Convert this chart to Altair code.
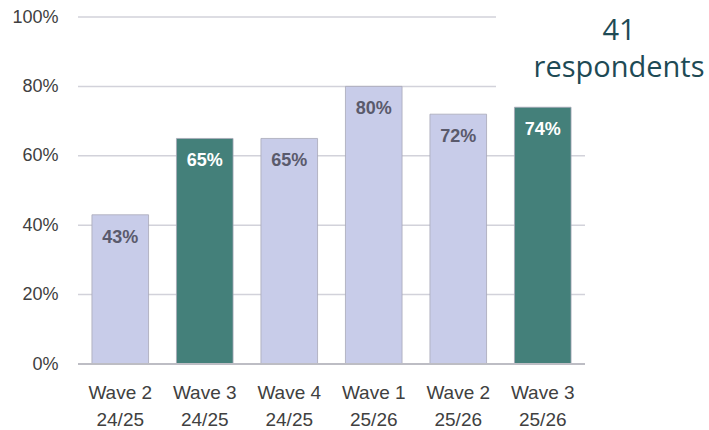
import altair as alt
import pandas as pd

# Share of respondents per survey wave
waves = ["Wave 2\n24/25", "Wave 3\n24/25", "Wave 4\n24/25",
         "Wave 1\n25/26", "Wave 2\n25/26", "Wave 3\n25/26"]
shares = [43, 65, 65, 80, 72, 74]
highlight = [False, True, False, False, False, True]
respondents_note = ["41", "respondents"]
grid_low = [0, 20, 40, 60]
grid_high = [80, 100]

LIGHT = "#C8CCE9"
TEAL = "#44807A"
GRID = "#D2D2DA"

df = pd.DataFrame({
    "wave": waves,
    "share": shares,
    "highlight": highlight,
    "label": [f"{v}%" for v in shares],
})

W, H = 507, 347
LEFT, TOP = 78, 17
TOTAL_W, TOTAL_H = 709, 430
NOTE_X = 418  # upper gridlines stop short of the respondent note

y_scale = alt.Scale(domain=[0, 100], nice=False)

x_enc = alt.X(
    "wave:N", sort=waves, title=None,
    scale=alt.Scale(paddingInner=0.33, paddingOuter=0.165),
    axis=alt.Axis(labelAngle=0, labelExpr="split(datum.label, '\\n')",
                  labelFont="Liberation Sans", labelFontSize=19,
                  labelColor="#404040", labelPadding=19, labelLineHeight=27,
                  ticks=False, domain=False, grid=False),
)
y_enc = alt.Y(
    "share:Q", title=None, scale=y_scale,
    axis=alt.Axis(values=[0, 20, 40, 60, 80, 100],
                  labelExpr="datum.value + '%'",
                  labelFont="Liberation Sans", labelFontSize=18,
                  labelColor="#404040", labelPadding=20,
                  ticks=False, domain=False, grid=False),
)

# Gridlines
grid_full = alt.Chart(pd.DataFrame({"v": grid_low})).mark_rule(
    color=GRID, strokeWidth=1.5
).encode(y=alt.Y("v:Q", scale=y_scale), x=alt.value(0), x2=alt.value(W))

grid_short = alt.Chart(pd.DataFrame({"v": grid_high})).mark_rule(
    color=GRID, strokeWidth=1.5
).encode(y=alt.Y("v:Q", scale=y_scale), x=alt.value(0), x2=alt.value(NOTE_X))

bars = alt.Chart(df).mark_bar(stroke="#A8A8B8", strokeWidth=0.8).encode(
    x=x_enc,
    y=y_enc,
    color=alt.Color("highlight:N",
                    scale=alt.Scale(domain=[False, True], range=[LIGHT, TEAL]),
                    legend=None),
)

labels = alt.Chart(df).mark_text(
    baseline="middle", dy=23, font="Liberation Sans",
    fontSize=18, fontWeight="bold",
).encode(
    x=alt.X("wave:N", sort=waves),
    y=alt.Y("share:Q", scale=y_scale),
    text="label:N",
    color=alt.Color("highlight:N",
                    scale=alt.Scale(domain=[False, True],
                                    range=["#5A5A6C", "#FFFFFF"]),
                    legend=None),
)

# Zero baseline
base = alt.Chart(pd.DataFrame({"v": [0]})).mark_rule(
    color="#BDBDC4", strokeWidth=2
).encode(y=alt.Y("v:Q", scale=y_scale))

note_top = alt.Chart(pd.DataFrame({"t": [respondents_note[0]]})).mark_text(
    font="Open Sans", fontSize=29, color="#1E4A55",
    align="center", baseline="middle",
).encode(x=alt.value(541), y=alt.value(14), text="t:N")

note_bottom = alt.Chart(pd.DataFrame({"t": [respondents_note[1]]})).mark_text(
    font="Open Sans", fontSize=29, color="#1E4A55",
    align="center", baseline="middle",
).encode(x=alt.value(541), y=alt.value(51), text="t:N")

chart = alt.layer(
    grid_full, grid_short, bars, base, labels, note_top, note_bottom
).resolve_scale(
    color="independent"
).properties(
    width=W, height=H,
    autosize=alt.AutoSizeParams(type="none"),
    padding={"left": LEFT, "top": TOP,
             "right": TOTAL_W - LEFT - W, "bottom": TOTAL_H - TOP - H},
).configure_view(stroke=None)

chart.save("out.html", embed_options={"renderer": "svg", "actions": False})
